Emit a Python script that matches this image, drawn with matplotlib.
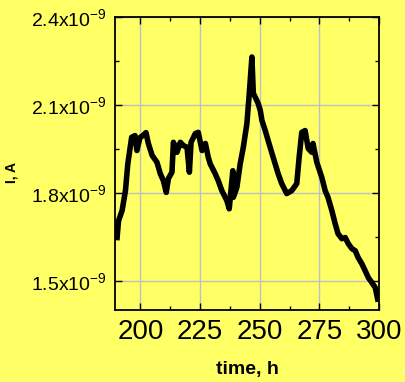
import matplotlib
matplotlib.use("Agg")
import matplotlib.pyplot as plt
from matplotlib.ticker import MultipleLocator, FuncFormatter

plt.rcParams["font.family"] = ["Liberation Sans", "DejaVu Sans"]
plt.rcParams["mathtext.fontset"] = "custom"
plt.rcParams["mathtext.rm"] = "Liberation Sans"

BG = "#ffff66"

# current trace, time in hours, current in nA (scaled to A below)
time_h = [190.2, 190.8, 192.3, 193.7, 194.7, 196.3, 197.7, 198.5, 199.8, 201.0,
          202.3, 203.3, 204.9, 206.9, 208.3, 209.6, 210.8, 211.7, 213.2, 213.8,
          215.3, 216.7, 218.0, 219.5, 220.5, 221.2, 223.0, 224.2, 225.8, 227.2,
          228.4, 229.2, 231.3, 232.6, 234.1, 236.2, 237.2, 238.7, 238.9, 240.4,
          241.8, 243.1, 244.6, 245.6, 246.7, 247.3, 248.1, 249.3, 250.2, 250.9,
          252.3, 253.5, 255.6, 257.7, 259.2, 261.3, 263.4, 265.5, 266.5, 267.6,
          269.0, 270.3, 271.8, 272.3, 273.9, 276.0, 277.4, 278.6, 280.2, 281.6,
          282.8, 284.4, 285.8, 287.1, 288.6, 290.0, 291.2, 292.8, 294.2, 295.5,
          297.0, 298.4, 299.4]
current_nA = [1.648, 1.705, 1.740, 1.808, 1.900, 1.990, 1.996, 1.945, 1.989, 1.996,
              2.006, 1.969, 1.928, 1.905, 1.866, 1.842, 1.802, 1.849, 1.871, 1.973,
              1.939, 1.973, 1.962, 1.956, 1.871, 1.973, 2.003, 2.007, 1.945, 1.969,
              1.922, 1.900, 1.866, 1.842, 1.808, 1.774, 1.746, 1.876, 1.785, 1.819,
              1.900, 1.956, 2.037, 2.140, 2.264, 2.140, 2.127, 2.106, 2.082, 2.048,
              2.013, 1.979, 1.922, 1.866, 1.832, 1.798, 1.808, 1.832, 1.922, 2.007,
              2.013, 1.952, 1.939, 1.969, 1.905, 1.853, 1.808, 1.785, 1.740, 1.695,
              1.661, 1.644, 1.648, 1.627, 1.610, 1.603, 1.580, 1.558, 1.534, 1.511,
              1.494, 1.477, 1.438]
current_A = [v * 1e-9 for v in current_nA]

fig = plt.figure(figsize=(4.05, 3.82), dpi=100, facecolor=BG)
ax = fig.add_axes([0.285, 0.188, 0.651, 0.767], facecolor=BG)

ax.plot(time_h, current_A, color="black", linewidth=4.0, solid_joinstyle="round")

ax.set_xlim(189.5, 300)
ax.set_ylim(1.4e-9, 2.4e-9)

ax.xaxis.set_major_locator(MultipleLocator(25))
ax.xaxis.set_minor_locator(MultipleLocator(12.5))
ax.yaxis.set_minor_locator(MultipleLocator(0.15e-9))
ax.set_yticks([1.5e-9, 1.8e-9, 2.1e-9, 2.4e-9])
ax.yaxis.set_major_formatter(FuncFormatter(
    lambda v, p: r"$\mathregular{%.1fx10^{-9}}$" % (v * 1e9)))

ax.grid(True, which="major", color="#c0c0c0", linewidth=1.0)
ax.set_axisbelow(True)

ax.tick_params(which="both", direction="in", top=True, right=True, color="black")
ax.tick_params(which="major", length=5, width=1.0)
ax.tick_params(which="minor", length=3, width=1.0)
ax.tick_params(axis="x", labelsize=20, pad=6)
ax.tick_params(axis="y", labelsize=14, pad=6)
for s in ax.spines.values():
    s.set_linewidth(1.3)

ax.set_xlabel("time, h", fontsize=14, fontweight="bold", labelpad=12)
ax.set_ylabel("I, A", fontsize=10, fontweight="bold")
ax.yaxis.set_label_coords(-0.369, 0.471)

fig.savefig("out.png", dpi=100, facecolor=BG)
